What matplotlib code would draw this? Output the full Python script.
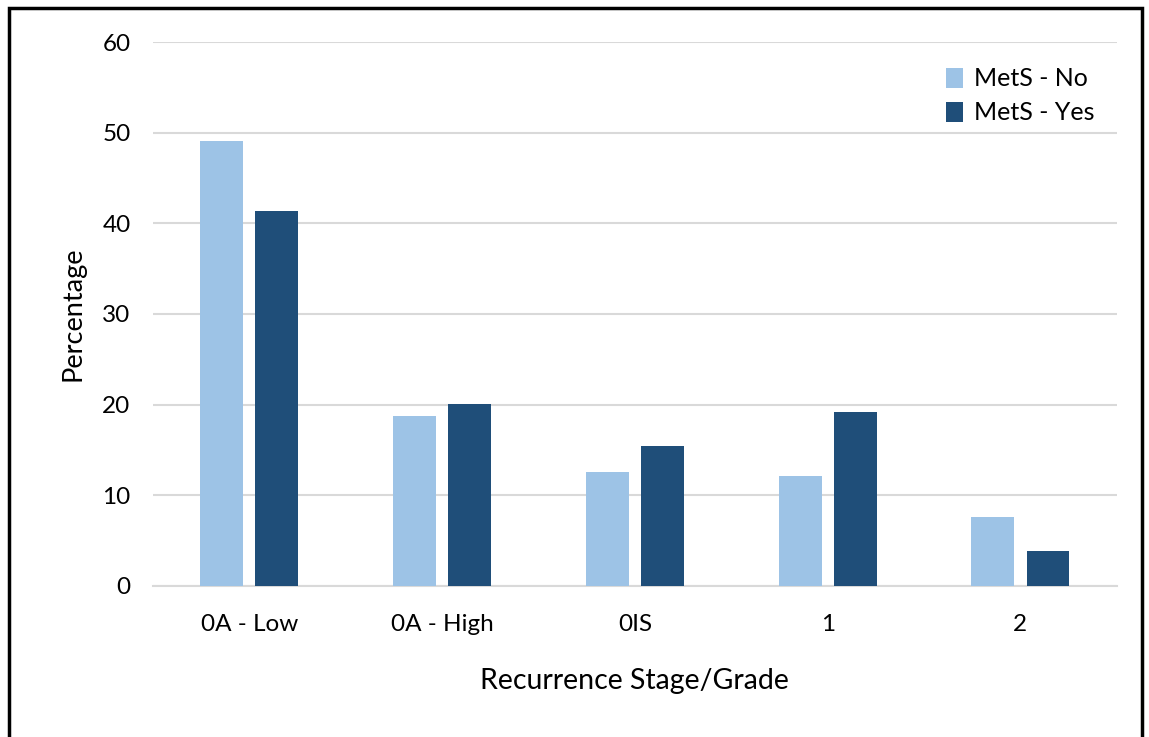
import matplotlib.pyplot as plt
from matplotlib.patches import Rectangle
import numpy as np

plt.rcParams['font.family'] = ['Lato', 'DejaVu Sans']

# Données
categories = ['0A - Low', '0A - High', '0IS', '1', '2']
mets_no = [49.1, 18.7, 12.6, 12.1, 7.6]
mets_yes = [41.4, 20.1, 15.4, 19.2, 3.9]

fig = plt.figure(figsize=(11.49, 7.37), dpi=100)
ax = fig.add_axes([0.133, 0.205, 0.839, 0.738])

x = np.arange(len(categories))
w = 0.223
ax.bar(x - 0.143, mets_no, width=w, color='#9DC3E6', label='MetS - No', zorder=3)
ax.bar(x + 0.143, mets_yes, width=w, color='#1F4E79', label='MetS - Yes', zorder=3)

ax.set_xlim(-0.5, len(categories) - 0.5)
ax.set_ylim(0, 60)
ax.set_yticks(range(0, 61, 10))
ax.set_xticks(x)
ax.set_xticklabels(categories)
ax.tick_params(length=0, labelsize=17.5, pad=16)
ax.tick_params(axis='x', pad=20)
ax.grid(axis='y', color='#d9d9d9', linewidth=1.5, zorder=0)
for s in ['top', 'right', 'left']:
    ax.spines[s].set_visible(False)
ax.spines['bottom'].set_color('#d9d9d9')
ax.spines['bottom'].set_linewidth(1.5)

ax.set_ylabel('Percentage', fontsize=19.5, labelpad=12)
ax.set_xlabel('Recurrence Stage/Grade', fontsize=20.5, labelpad=24)

ax.legend(loc='upper right', frameon=False, fontsize=18, handlelength=0.65,
          handleheight=0.85, handletextpad=0.45, labelspacing=0.45,
          bbox_to_anchor=(1.0, 0.995))

# cadre noir autour de la figure
fig.patches.append(Rectangle((9 / 1149, -0.01), 1133 / 1149, 1 - 8 / 737 + 0.01,
                             transform=fig.transFigure, fill=False,
                             edgecolor='black', linewidth=2.5))

plt.savefig('out.png', dpi=100)
